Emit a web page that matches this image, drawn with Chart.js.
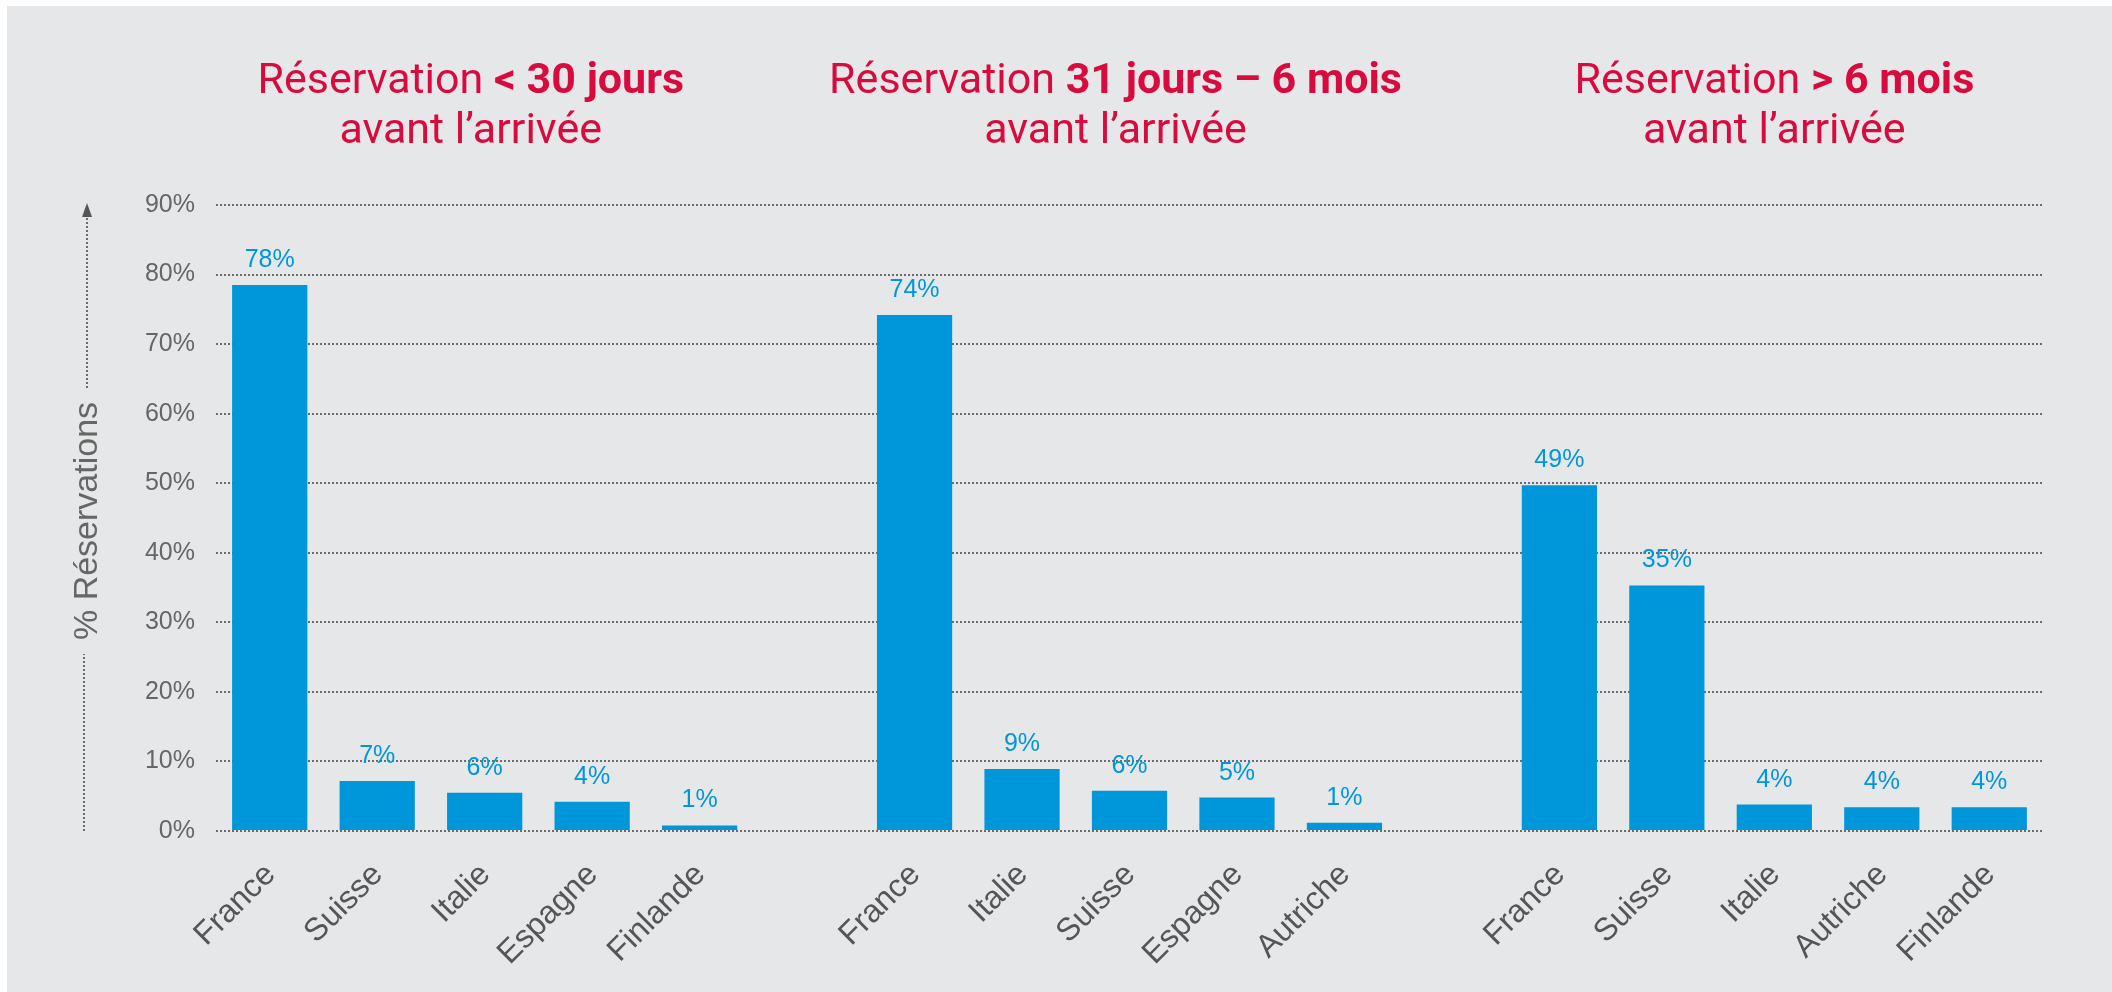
<!DOCTYPE html>
<html>
<head>
<meta charset="utf-8">
<script src="https://cdn.jsdelivr.net/npm/chart.js@4"></script>
<style>
  html, body { margin: 0; padding: 0; background: #ffffff; }
  #wrap { position: relative; width: 2112px; height: 992px; }
</style>
</head>
<body>
<div id="wrap"><canvas id="c" width="2112" height="992"></canvas></div>
<script>
// ---- data ----
const categories = ['France','Suisse','Italie','Espagne','Finlande','',
                    'France','Italie','Suisse','Espagne','Autriche','',
                    'France','Suisse','Italie','Autriche','Finlande'];
const values = [78.5, 7.2, 5.5, 4.2, 0.8, null,
                74.2, 8.9, 5.8, 4.8, 1.2, null,
                49.7, 35.3, 3.8, 3.4, 3.4];
const valueLabels = ['78%','7%','6%','4%','1%','',
                     '74%','9%','6%','5%','1%','',
                     '49%','35%','4%','4%','4%'];
const groupTitles = [
  { normal: 'Réservation ', bold: '< 30 jours', line2: 'avant l\u2019arrivée', from: 0, to: 4, shift: -0.13 },
  { normal: 'Réservation ', bold: '31 jours \u2013 6 mois', line2: 'avant l\u2019arrivée', from: 6, to: 10, shift: -0.13 },
  { normal: 'Réservation ', bold: '> 6 mois', line2: 'avant l\u2019arrivée', from: 12, to: 16, shift: 0 }
];
const yTicks = [0,10,20,30,40,50,60,70,80,90];
const yAxisTitle = '% Réservations';

const BAR = '#0096DA';
const RED = '#D80B3F';
const GRID = '#6b6b6b';
const AXIS_FONT = '"Liberation Sans", Arial, sans-serif';
const TITLE_FONT = 'Roboto, "Liberation Sans", sans-serif';

const bgPlugin = {
  id: 'bg',
  beforeDraw(chart) {
    const ctx = chart.ctx;
    ctx.save();
    ctx.fillStyle = '#ffffff';
    ctx.fillRect(0, 0, chart.width, chart.height);
    ctx.fillStyle = '#e6e7e9';
    ctx.fillRect(7, 6, chart.width - 7, chart.height - 6);
    ctx.restore();
  }
};

const decoPlugin = {
  id: 'deco',
  afterDatasetsDraw(chart) {
    const ctx = chart.ctx;
    const meta = chart.getDatasetMeta(0);
    const x = chart.scales.x, y = chart.scales.y;
    ctx.save();
    // value labels
    ctx.fillStyle = BAR;
    ctx.font = '25px ' + AXIS_FONT;
    ctx.textAlign = 'center';
    ctx.textBaseline = 'alphabetic';
    meta.data.forEach((bar, i) => {
      if (values[i] === null) return;
      ctx.fillText(valueLabels[i], bar.x, bar.y - 18);
    });
    // category labels (rotated 45°)
    ctx.fillStyle = '#555555';
    ctx.font = '32px ' + AXIS_FONT;
    ctx.textAlign = 'right';
    ctx.textBaseline = 'alphabetic';
    categories.forEach((lab, i) => {
      if (!lab) return;
      ctx.save();
      ctx.translate(x.getPixelForValue(i) + 7, y.bottom + 45);
      ctx.rotate(-Math.PI / 4);
      ctx.fillText(lab, 0, 0);
      ctx.restore();
    });
    // group titles
    const slot = x.getPixelForValue(1) - x.getPixelForValue(0);
    const TS = 43;
    groupTitles.forEach(g => {
      const cx = (x.getPixelForValue(g.from) + x.getPixelForValue(g.to)) / 2 + g.shift * slot;
      ctx.fillStyle = RED;
      ctx.textBaseline = 'alphabetic';
      ctx.textAlign = 'left';
      ctx.font = '400 ' + TS + 'px ' + TITLE_FONT;
      const w1 = ctx.measureText(g.normal).width;
      ctx.font = '700 ' + TS + 'px ' + TITLE_FONT;
      const w2 = ctx.measureText(g.bold).width;
      const start = cx - (w1 + w2) / 2;
      ctx.font = '400 ' + TS + 'px ' + TITLE_FONT;
      ctx.fillText(g.normal, start, 93);
      ctx.font = '700 ' + TS + 'px ' + TITLE_FONT;
      ctx.fillText(g.bold, start + w1, 93);
      ctx.font = '400 ' + TS + 'px ' + TITLE_FONT;
      ctx.textAlign = 'center';
      ctx.fillText(g.line2, cx, 143);
    });
    // y-axis title with dotted lines and arrow
    const ax = 88;
    const midY = 521;
    ctx.save();
    ctx.translate(ax, midY);
    ctx.rotate(-Math.PI / 2);
    ctx.fillStyle = '#666666';
    ctx.font = '34px ' + AXIS_FONT;
    ctx.textAlign = 'center';
    ctx.textBaseline = 'middle';
    ctx.fillText(yAxisTitle, 0, 0);
    const tw = ctx.measureText(yAxisTitle).width;
    ctx.restore();
    ctx.strokeStyle = '#6b6b6b';
    ctx.lineWidth = 2;
    ctx.setLineDash([2, 2]);
    ctx.beginPath();
    ctx.moveTo(ax - 4, y.bottom);
    ctx.lineTo(ax - 4, midY + tw / 2 + 14);
    ctx.moveTo(ax - 1, midY - tw / 2 - 14);
    ctx.lineTo(ax - 1, y.top + 11);
    ctx.stroke();
    ctx.setLineDash([]);
    ctx.fillStyle = '#555555';
    ctx.beginPath();
    ctx.moveTo(ax - 1, y.top - 2);
    ctx.lineTo(ax - 6, y.top + 12);
    ctx.lineTo(ax + 4, y.top + 12);
    ctx.closePath();
    ctx.fill();
    ctx.restore();
  }
};

new Chart(document.getElementById('c'), {
  type: 'bar',
  data: {
    labels: categories,
    datasets: [{
      data: values,
      backgroundColor: BAR,
      borderWidth: 0,
      barPercentage: 1.0,
      categoryPercentage: 0.70
    }]
  },
  options: {
    responsive: false,
    animation: false,
    devicePixelRatio: 1,
    layout: { padding: { top: 205, right: 69, bottom: 0, left: 0 } },
    plugins: { legend: { display: false }, tooltip: { enabled: false }, title: { display: false } },
    scales: {
      x: {
        grid: { display: false },
        border: { display: false },
        afterFit(scale) { scale.height = 161; },
        ticks: { display: false }
      },
      y: {
        min: 0,
        max: 90,
        afterFit(scale) { scale.width = 216; },
        afterBuildTicks(scale) { scale.ticks = yTicks.map(v => ({ value: v })); },
        border: { display: false, dash: [2, 2] },
        grid: {
          color: GRID,
          lineWidth: 2,
          drawTicks: false
        },
        ticks: {
          padding: 21,
          color: '#666666',
          font: { family: AXIS_FONT, size: 25 },
          callback: v => v + '%'
        }
      }
    }
  },
  plugins: [bgPlugin, decoPlugin]
});
</script>
</body>
</html>
